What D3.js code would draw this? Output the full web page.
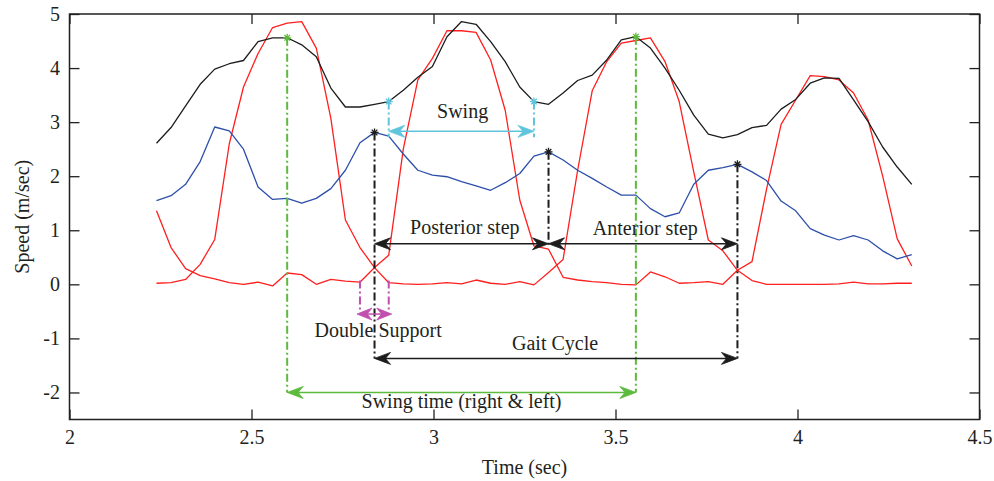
<!DOCTYPE html>
<html>
<head>
<meta charset="utf-8">
<script src="https://cdn.jsdelivr.net/npm/d3@7"></script>
<style>
  html, body { margin: 0; padding: 0; background: #fff; }
  svg { display: block; }
  text { font-family: "Liberation Serif", "Times New Roman", serif; fill: #231f20; }
</style>
</head>
<body>
<svg id="chart" width="994" height="481"></svg>
<script>
// ---- data ----
const time = [2.239, 2.279, 2.319, 2.359, 2.399, 2.439, 2.478, 2.518, 2.558, 2.598,
  2.638, 2.678, 2.718, 2.758, 2.798, 2.838, 2.877, 2.917, 2.957, 2.997,
  3.037, 3.077, 3.117, 3.157, 3.197, 3.237, 3.276, 3.316, 3.356, 3.396,
  3.436, 3.476, 3.516, 3.556, 3.596, 3.636, 3.675, 3.715, 3.755, 3.795,
  3.835, 3.875, 3.915, 3.955, 3.995, 4.035, 4.074, 4.114, 4.154, 4.194,
  4.234, 4.274, 4.314];

const speedBody = [2.61, 2.90, 3.30, 3.70, 3.98, 4.08, 4.14, 4.49, 4.56, 4.56,
  4.43, 4.21, 3.63, 3.28, 3.28, 3.33, 3.38, 3.59, 3.83, 4.03,
  4.58, 4.86, 4.81, 4.49, 4.12, 3.65, 3.38, 3.33, 3.54, 3.77,
  3.87, 4.15, 4.52, 4.58, 4.37, 4.00, 3.59, 3.13, 2.78, 2.71,
  2.77, 2.90, 2.94, 3.24, 3.42, 3.72, 3.82, 3.81, 3.41, 3.01,
  2.54, 2.17, 1.85];

const speedCenter = [1.55, 1.64, 1.85, 2.27, 2.91, 2.84, 2.50, 1.80, 1.57, 1.59,
  1.50, 1.59, 1.77, 2.11, 2.62, 2.81, 2.74, 2.41, 2.11, 2.02,
  1.99, 1.90, 1.82, 1.74, 1.88, 2.05, 2.37, 2.45, 2.30, 2.11,
  1.96, 1.80, 1.65, 1.65, 1.40, 1.25, 1.32, 1.85, 2.11, 2.16,
  2.22, 2.08, 1.92, 1.54, 1.36, 1.03, 0.91, 0.82, 0.90, 0.82,
  0.62, 0.47, 0.55];

const speedFootA = [0.02, 0.03, 0.09, 0.37, 0.83, 2.60, 3.65, 4.27, 4.75, 4.83,
  4.86, 4.37, 3.07, 1.19, 0.68, 0.31, 0.03, 0.01, 0.00, 0.01,
  0.03, 0.01, 0.08, 0.02, 0.00, 0.05, -0.01, 0.22, 0.46, 2.11,
  3.58, 4.12, 4.46, 4.51, 4.56, 4.12, 3.38, 2.08, 0.82, 0.62,
  0.26, 0.07, 0.00, 0.00, 0.00, 0.00, 0.00, 0.01, 0.04, 0.01,
  0.01, 0.02, 0.02];

const speedFootB = [1.36, 0.68, 0.29, 0.16, 0.10, 0.03, 0.00, 0.04, -0.03, 0.21,
  0.18, 0.00, 0.09, 0.06, 0.04, 0.31, 0.54, 2.50, 3.78, 4.18,
  4.69, 4.69, 4.66, 4.15, 3.22, 1.56, 0.71, 0.65, 0.13, 0.08,
  0.05, 0.03, 0.00, -0.01, 0.23, 0.14, 0.02, 0.03, 0.05, 0.00,
  0.26, 0.42, 1.76, 2.96, 3.41, 3.86, 3.84, 3.78, 3.54, 3.04,
  2.00, 0.84, 0.34];

const xTicks = [2, 2.5, 3, 3.5, 4, 4.5];
const yTicks = [-2, -1, 0, 1, 2, 3, 4, 5];

// annotation anchors (sample indices) and levels (m/sec)
const swingTimeIdx = [9, 33];      // green, on body speed
const swingIdx = [16, 26];         // cyan, on body speed
const stepIdx = [15, 27, 40];      // black, on center speed
const doubleSupportIdx = [14, 16]; // magenta
const swingTimeLevel = -2;
const swingLevel = 2.83;
const swingBottom = 2.72;
const stepLevel = 0.75;
const stepMidBottom = 0.68;
const gaitLevel = -1.37;
const dsTop = 0.07;
const dsBottom = -0.48;
const dsLevel = -0.55;

const labels = [
  {text: "Swing", t: 3.080, v: 3.07},
  {text: "Posterior step", t: 3.086, v: 0.94},
  {text: "Anterior step", t: 3.582, v: 0.91},
  {text: "Double Support", t: 2.848, v: -0.97},
  {text: "Gait Cycle", t: 3.334, v: -1.21},
  {text: "Swing time (right & left)", t: 3.077, v: -2.29}
];

// ---- colours ----
const cRed = "#ff1f1f", cBlue = "#2d4faa", cBlack = "#1c1c1c";
const cGreen = "#5cba3c", cCyan = "#5ec5dc", cMag = "#c04fae";

// ---- chart ----
const svg = d3.select("#chart");
const L = 69.5, R = 979.5, T = 14, B = 419.5;
const x = d3.scaleLinear().domain([2, 4.5]).range([L, R]);
const y = d3.scaleLinear().domain([-2.5, 5]).range([B, T]);

// axes
const fmt = d => String(d);
const gx = svg.append("g").attr("transform", `translate(0,${B})`)
  .call(d3.axisBottom(x).tickValues(xTicks).tickSize(-10).tickPadding(10).tickFormat(fmt));
const gy = svg.append("g").attr("transform", `translate(${L},0)`)
  .call(d3.axisLeft(y).tickValues(yTicks).tickSize(-10).tickPadding(9.5).tickFormat(fmt));
const gt = svg.append("g").attr("transform", `translate(0,${T})`)
  .call(d3.axisTop(x).tickValues(xTicks).tickSize(-10).tickFormat(""));
const gr = svg.append("g").attr("transform", `translate(${R},0)`)
  .call(d3.axisRight(y).tickValues(yTicks).tickSize(-10).tickFormat(""));
[gx, gy, gt, gr].forEach(g => {
  g.select(".domain").remove();
  g.selectAll(".tick line").attr("stroke", "#231f20").attr("stroke-width", 1.3);
  g.selectAll(".tick text").attr("font-size", 20).attr("font-family", "Liberation Serif").attr("fill", "#231f20");
});
svg.append("rect").attr("x", L).attr("y", T).attr("width", R - L).attr("height", B - T)
  .attr("fill", "none").attr("stroke", "#231f20").attr("stroke-width", 1.5);

svg.append("text").attr("x", (L + R) / 2).attr("y", 474).attr("text-anchor", "middle")
  .attr("font-size", 20).text("Time (sec)");
svg.append("text").attr("transform", `translate(29,${(T + B) / 2}) rotate(-90)`)
  .attr("text-anchor", "middle").attr("font-size", 20).text("Speed (m/sec)");

// series
const line = d3.line().x((d, i) => x(time[i])).y(d => y(d));
const series = [
  {v: speedFootA, c: cRed},
  {v: speedFootB, c: cRed},
  {v: speedCenter, c: cBlue},
  {v: speedBody, c: cBlack}
];
svg.append("g").selectAll("path").data(series).join("path")
  .attr("d", d => line(d.v)).attr("fill", "none")
  .attr("stroke", d => d.c).attr("stroke-width", 1.3).attr("stroke-linejoin", "round");

// annotation helpers
const ann = svg.append("g");
const dashDot = "8,3,2,3";
function vline(t, v1, v2, color) {
  ann.append("line").attr("x1", x(t)).attr("x2", x(t)).attr("y1", y(v1)).attr("y2", y(v2))
    .attr("stroke", color).attr("stroke-width", 2).attr("stroke-dasharray", dashDot);
}
function head(px, py, dir, color, len = 16, w = 6) {
  // dir = +1 points right, -1 points left
  const p = [[0, 0], [-len, -w], [-len * 0.68, 0], [-len, w]].map(([a, b]) => [px + dir * a, py + b]);
  ann.append("path").attr("d", "M" + p.map(q => q.join(",")).join("L") + "Z")
    .attr("fill", color).attr("stroke", color).attr("stroke-width", 0.8).attr("stroke-linejoin", "miter");
}
function arrow(t1, t2, v, color, left = true, right = true, ext = 0, len = 16, w = 6) {
  const x1 = x(t1) - ext, x2 = x(t2) + ext, yy = y(v);
  ann.append("line").attr("x1", x1 + (left ? 6 : 0)).attr("x2", x2 - (right ? 6 : 0))
    .attr("y1", yy).attr("y2", yy).attr("stroke", color).attr("stroke-width", 1.5);
  if (left) head(x1, yy, -1, color, len, w);
  if (right) head(x2, yy, 1, color, len, w);
}
function star(t, v, color) {
  const cx = x(t), cy = y(v), r = 4;
  const d = `M${cx - r},${cy}L${cx + r},${cy}M${cx},${cy - r}L${cx},${cy + r}` +
    `M${cx - r * 0.7},${cy - r * 0.7}L${cx + r * 0.7},${cy + r * 0.7}` +
    `M${cx - r * 0.7},${cy + r * 0.7}L${cx + r * 0.7},${cy - r * 0.7}`;
  ann.append("path").attr("d", d).attr("stroke", color).attr("stroke-width", 1.3).attr("fill", "none");
}

// green: swing time
swingTimeIdx.forEach(i => vline(time[i], speedBody[i], swingTimeLevel, cGreen));
arrow(time[swingTimeIdx[0]], time[swingTimeIdx[1]], swingTimeLevel, cGreen);
swingTimeIdx.forEach(i => star(time[i], speedBody[i], cGreen));

// cyan: swing
swingIdx.forEach(i => vline(time[i], speedBody[i], swingBottom, cCyan));
arrow(time[swingIdx[0]], time[swingIdx[1]], swingLevel, cCyan);
swingIdx.forEach(i => star(time[i], speedBody[i], cCyan));

// black: steps and gait cycle
vline(time[stepIdx[0]], speedCenter[stepIdx[0]], gaitLevel, cBlack);
vline(time[stepIdx[1]], speedCenter[stepIdx[1]], stepMidBottom, cBlack);
vline(time[stepIdx[2]], speedCenter[stepIdx[2]], gaitLevel, cBlack);
arrow(time[stepIdx[0]], time[stepIdx[1]], stepLevel, cBlack);
arrow(time[stepIdx[1]], time[stepIdx[2]], stepLevel, cBlack);
arrow(time[stepIdx[0]], time[stepIdx[2]], gaitLevel, cBlack);
stepIdx.forEach(i => star(time[i], speedCenter[i], cBlack));

// magenta: double support
doubleSupportIdx.forEach(i => vline(time[i], dsTop, dsBottom, cMag));
arrow(time[doubleSupportIdx[0]], time[doubleSupportIdx[1]], dsLevel, cMag, true, true, 3, 15, 6);

// labels
svg.append("g").selectAll("text").data(labels).join("text")
  .attr("x", d => x(d.t)).attr("y", d => y(d.v)).attr("text-anchor", "middle")
  .attr("font-size", 20).text(d => d.text);
</script>
</body>
</html>
